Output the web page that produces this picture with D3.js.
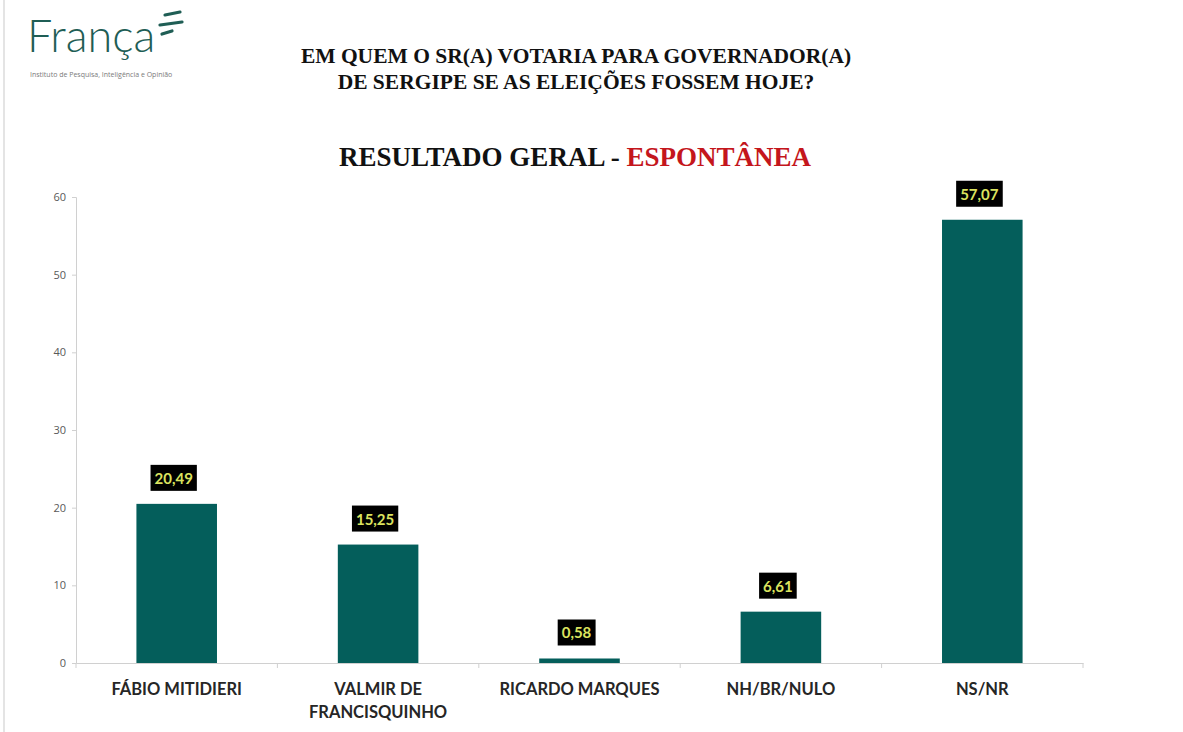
<!DOCTYPE html>
<html><head><meta charset="utf-8">
<script src="https://cdn.jsdelivr.net/npm/d3@7"></script>
<style>html,body{margin:0;padding:0;background:#fff;}svg{display:block;}</style>
</head><body>
<svg id="chart" width="1183" height="732"></svg>
<script>
const categories = ["FÁBIO MITIDIERI", "VALMIR DE\nFRANCISQUINHO", "RICARDO MARQUES", "NH/BR/NULO", "NS/NR"];
const values = [20.49, 15.25, 0.58, 6.61, 57.07];
const valueLabels = ["20,49", "15,25", "0,58", "6,61", "57,07"];
const yTicks = [0, 10, 20, 30, 40, 50, 60];

const svg = d3.select("#chart");
const W = 1183, H = 732;
const m = {left: 76, right: 100, top: 197, bottom: 69};

svg.append("rect").attr("width", W).attr("height", H).attr("fill", "#fff");
svg.append("line").attr("x1", 4).attr("x2", 4).attr("y1", 0).attr("y2", H).attr("stroke", "#e4e4e4").attr("stroke-width", 2);

// Logo
const logo = svg.append("g");
logo.append("text").attr("x", 27).attr("y", 52).attr("font-family", "Lato, 'Open Sans', sans-serif")
  .attr("font-weight", 300).attr("font-size", 45).attr("fill", "#1f5e55").text("França");
[[165, 12, 15], [160, 22, 22], [162, 31, 10]].forEach(d => {
  logo.append("line").attr("x1", d[0]).attr("x2", d[0] + d[2]).attr("y1", d[1] + 3).attr("y2", d[1])
    .attr("stroke", "#1f5e55").attr("stroke-width", 3.2).attr("stroke-linecap", "round");
});
logo.append("text").attr("x", 30).attr("y", 77).attr("font-family", "'Open Sans', sans-serif")
  .attr("font-size", 7).attr("fill", "#7a7a7a").text("Instituto de Pesquisa, Inteligência e Opinião");

// Titles
const serif = "'Liberation Serif', 'Times New Roman', serif";
svg.append("text").attr("x", 576).attr("y", 63).attr("text-anchor", "middle").attr("font-family", serif)
  .attr("font-weight", "bold").attr("font-size", 21.5).attr("fill", "#111").text("EM QUEM O SR(A) VOTARIA PARA GOVERNADOR(A)");
svg.append("text").attr("x", 576).attr("y", 89).attr("text-anchor", "middle").attr("font-family", serif)
  .attr("font-weight", "bold").attr("font-size", 21.5).attr("fill", "#111").text("DE SERGIPE SE AS ELEIÇÕES FOSSEM HOJE?");
const t2 = svg.append("text").attr("x", 575).attr("y", 166).attr("text-anchor", "middle").attr("font-family", serif)
  .attr("font-weight", "bold").attr("font-size", 27).attr("fill", "#111");
t2.append("tspan").attr("fill", "#111").text("RESULTADO GERAL - ");
t2.append("tspan").attr("fill", "#c4161c").text("ESPONTÂNEA");

// Scales
const x = d3.scaleBand().domain(categories).range([m.left, W - m.right]).padding(0);
const y = d3.scaleLinear().domain([0, 60]).range([H - m.bottom, m.top]);
const barW = x.bandwidth() * 0.4;

// Y axis
const yAxis = svg.append("g").attr("transform", `translate(${m.left},0)`)
  .call(d3.axisLeft(y).tickValues(yTicks).tickSize(4).tickPadding(6));
yAxis.select(".domain").attr("stroke", "#d0d0d0");
yAxis.selectAll(".tick line").attr("stroke", "#d0d0d0");
yAxis.selectAll(".tick text").attr("font-family", "'Open Sans', sans-serif").attr("font-size", 11).attr("fill", "#595959");

// X axis
const xAxis = svg.append("g").attr("transform", `translate(0,${y(0)})`)
  .call(d3.axisBottom(x).tickSize(0).tickFormat(""));
xAxis.select(".domain").attr("stroke", "#d0d0d0");
const bounds = categories.map(c => x(c)).concat([x(categories[categories.length - 1]) + x.bandwidth()]);
xAxis.selectAll(".sep").data(bounds).enter().append("line").attr("class", "sep")
  .attr("x1", d => d).attr("x2", d => d).attr("y1", 0).attr("y2", 5).attr("stroke", "#d0d0d0");

// Category labels
categories.forEach(c => {
  const lines = c.split("\n");
  const t = svg.append("text").attr("x", x(c) + x.bandwidth() / 2).attr("y", 695).attr("text-anchor", "middle")
    .attr("font-family", "Lato, 'Open Sans', sans-serif").attr("font-weight", "bold").attr("font-size", 16.5).attr("fill", "#262626");
  lines.forEach((l, i) => t.append("tspan").attr("x", x(c) + x.bandwidth() / 2).attr("dy", i === 0 ? 0 : 23).text(l));
});

// Bars
svg.selectAll(".bar").data(values).enter().append("rect").attr("class", "bar")
  .attr("x", (d, i) => x(categories[i]) + (x.bandwidth() - barW) / 2)
  .attr("width", barW)
  .attr("y", d => y(d))
  .attr("height", d => y(0) - y(d))
  .attr("fill", "#045e5b");

// Value labels
values.forEach((v, i) => {
  const cx = x(categories[i]) + x.bandwidth() / 2 - 3;
  const by = y(v) - 13;
  const g = svg.append("g");
  const txt = g.append("text").attr("x", cx).attr("y", by - 7).attr("text-anchor", "middle")
    .attr("font-family", "Lato, 'Open Sans', sans-serif").attr("font-weight", "bold").attr("font-size", 15)
    .attr("fill", "#dbe35f").text(valueLabels[i]);
  const bb = txt.node().getBBox();
  g.insert("rect", "text").attr("x", bb.x - 4).attr("y", by - 26).attr("width", bb.width + 8).attr("height", 26).attr("fill", "#000");
});
</script>
</body></html>
